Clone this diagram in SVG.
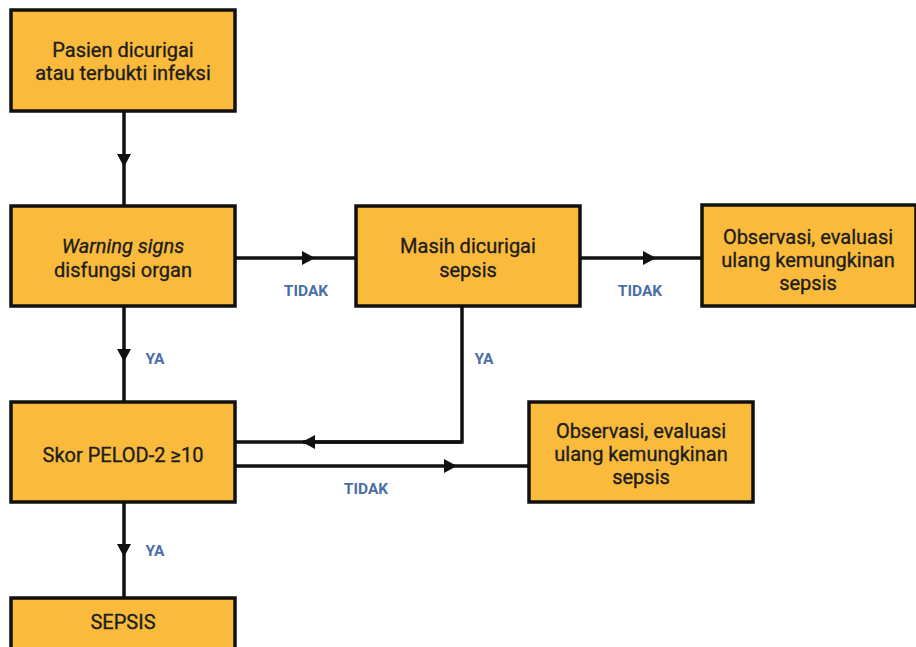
<svg xmlns="http://www.w3.org/2000/svg" width="916" height="647" viewBox="0 0 916 647">
<defs>
<marker id="ah" markerUnits="userSpaceOnUse" markerWidth="14" markerHeight="14" refX="13" refY="7" orient="auto">
<path d="M0,0 L13,7 L0,14 z" fill="#111"/>
</marker>
<style>
.box{fill:#FABB3C;stroke:#111;stroke-width:3.5}
.t{font-family:Roboto,"Liberation Sans",sans-serif;font-size:20px;font-weight:normal;fill:#1e1e1e;stroke:#1e1e1e;stroke-width:0.35;text-anchor:middle}
.lbl{font-family:Roboto,"Liberation Sans",sans-serif;font-size:15.5px;font-weight:bold;fill:#4A6EA8;text-anchor:middle}
.c{fill:none;stroke:#111;stroke-width:3.5;marker-mid:url(#ah)}
.cp{fill:none;stroke:#111;stroke-width:3.5}
</style>
</defs>
<rect width="916" height="647" fill="#fff"/>
<g id="connectors">
<polyline class="c" points="124,111 124,167 124,206"/>
<polyline class="c" points="124,306 124,362 124,402"/>
<polyline class="c" points="124,502 124,557 124,598"/>
<polyline class="c" points="235,258 315,258 356,258"/>
<polyline class="c" points="580,258 656,258 702,258"/>
<polyline class="cp" points="462,306 462,442 303,442"/>
<polyline class="c" points="462,442 302,442 235,442"/>
<polyline class="c" points="235,466 457,466 529,466"/>
<text class="lbl" x="155" y="364">YA</text>
<text class="lbl" x="155" y="556">YA</text>
<text class="lbl" x="484" y="364">YA</text>
<text class="lbl" x="306" y="296">TIDAK</text>
<text class="lbl" x="640" y="296">TIDAK</text>
<text class="lbl" x="366" y="494">TIDAK</text>
</g>
<g id="n1">
<rect class="box" x="11" y="10" width="224" height="101"/>
<text class="t" x="123" y="57">Pasien dicurigai</text>
<text class="t" x="123" y="80">atau terbukti infeksi</text>
</g>
<g id="n2">
<rect class="box" x="11" y="206" width="224" height="100"/>
<text class="t" x="123" y="253" font-style="italic">Warning signs</text>
<text class="t" x="123" y="277">disfungsi organ</text>
</g>
<g id="n3">
<rect class="box" x="356" y="206" width="224" height="100"/>
<text class="t" x="468" y="253">Masih dicurigai</text>
<text class="t" x="468" y="277">sepsis</text>
</g>
<g id="n4">
<rect class="box" x="702" y="205" width="214" height="101"/>
<text class="t" x="808" y="244">Observasi, evaluasi</text>
<text class="t" x="808" y="267">ulang kemungkinan</text>
<text class="t" x="808" y="290">sepsis</text>
</g>
<g id="n5">
<rect class="box" x="11" y="402" width="224" height="100"/>
<text class="t" x="123" y="462">Skor PELOD-2 ≥10</text>
</g>
<g id="n6">
<rect class="box" x="529" y="402" width="224" height="100"/>
<text class="t" x="641" y="438">Observasi, evaluasi</text>
<text class="t" x="641" y="461">ulang kemungkinan</text>
<text class="t" x="641" y="484">sepsis</text>
</g>
<g id="n7">
<rect class="box" x="11" y="598" width="224" height="60"/>
<text class="t" x="123" y="629">SEPSIS</text>
</g>
</svg>
